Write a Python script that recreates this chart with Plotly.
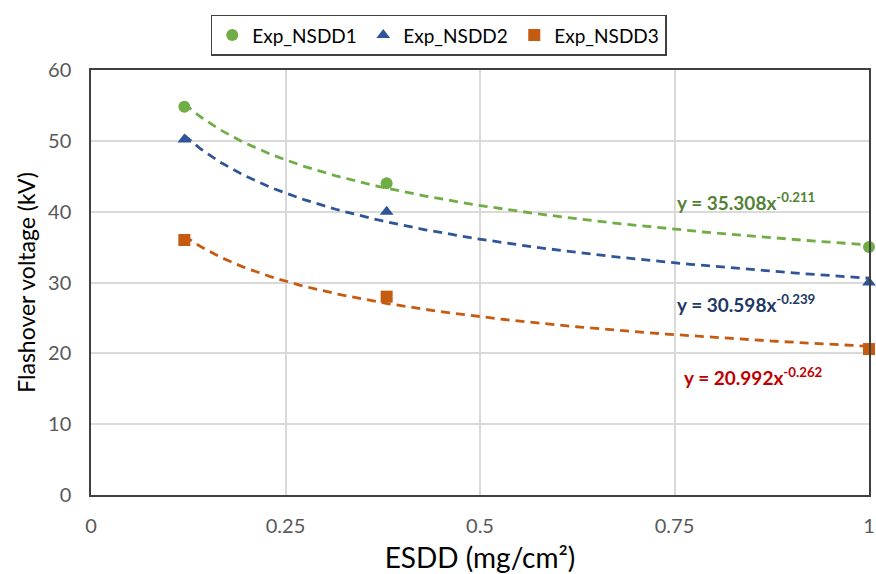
import numpy as np
import plotly.graph_objects as go

esdd = [0.12, 0.38, 1.0]
nsdd1 = [54.8, 44.0, 35.0]
nsdd2 = [50.2, 40.0, 30.0]
nsdd3 = [36.0, 28.0, 20.6]
names = ["Exp_NSDD1", "Exp_NSDD2", "Exp_NSDD3"]
fit_a = [35.308, 30.598, 20.992]
fit_b = [-0.211, -0.239, -0.262]
eq_labels = ["y = 35.308x<sup>-0.211</sup>", "y = 30.598x<sup>-0.239</sup>", "y = 20.992x<sup>-0.262</sup>"]
eq_pos = [(0.75, 41.4), (0.75, 27.0), (0.76, 16.8)]

marker_cols = ["#70AD47", "#2F5597", "#C55A11"]
line_cols = ["#70AD47", "#2F5597", "#C55A11"]
text_cols = ["#548235", "#203864", "#C00000"]
symbols = ["circle", "triangle-up", "square"]

fig = go.Figure()
xs = np.linspace(esdd[0], esdd[-1], 200)
for i, ys in enumerate([nsdd1, nsdd2, nsdd3]):
    fig.add_trace(go.Scatter(x=xs, y=fit_a[i] * xs ** fit_b[i], mode="lines",
                             line=dict(color=line_cols[i], width=2.8, dash="9px,6px"),
                             showlegend=False, hoverinfo="skip"))
for i, ys in enumerate([nsdd1, nsdd2, nsdd3]):
    fig.add_trace(go.Scatter(x=esdd, y=ys, mode="markers", name=names[i], cliponaxis=False,
                             marker=dict(color=marker_cols[i], symbol=symbols[i], size=12)))
for i in range(3):
    fig.add_annotation(x=eq_pos[i][0], y=eq_pos[i][1], text="<b>" + eq_labels[i] + "</b>",
                       showarrow=False, xanchor="left", yanchor="middle",
                       font=dict(color=text_cols[i], size=19, family="Lato"))

fig.update_layout(
    width=876, height=574,
    margin=dict(l=91, r=7, t=70, b=79),
    paper_bgcolor="white", plot_bgcolor="white",
    font=dict(family="Lato", size=20, color="#595959"),
    legend=dict(orientation="h", x=0.447, xanchor="center", y=1.13, yanchor="top",
                bordercolor="#404040", borderwidth=1.5, font=dict(size=19, color="#000000"),
                itemwidth=30, entrywidth=106, entrywidthmode="pixels"),
    xaxis=dict(range=[0, 1], tickvals=[0, 0.25, 0.5, 0.75, 1], ticktext=["0", "0.25", "0.5", "0.75", "1"],
               showgrid=True, gridcolor="#D9D9D9", gridwidth=1.5, showline=True, linecolor="#404040",
               linewidth=1.5, mirror=True, ticks="", zeroline=False, automargin=False,
               tickfont=dict(size=20, color="#595959"), ticklabelstandoff=12,
               title=dict(text="ESDD (mg/cm²)", font=dict(size=28, color="#000000"), standoff=17)),
    yaxis=dict(range=[0, 60], dtick=10, showgrid=True, gridcolor="#D9D9D9", gridwidth=1.5,
               showline=True, linecolor="#404040", linewidth=1.5, mirror=True, ticks="", zeroline=False,
               automargin=False, tickfont=dict(size=20, color="#595959"), ticklabelstandoff=14,
               title=dict(text="Flashover voltage (kV)", font=dict(size=23, color="#000000"), standoff=6)),
)
fig.write_html("out.html")
